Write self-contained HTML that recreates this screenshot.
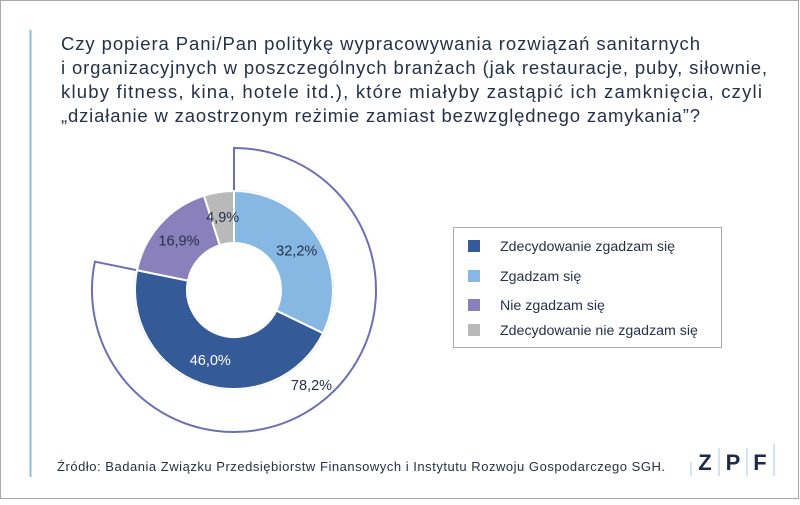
<!DOCTYPE html>
<html><head><meta charset="utf-8"><style>
body{margin:0;width:800px;height:500px;overflow:hidden;background:#fff;font-family:"Liberation Sans",sans-serif}
</style></head><body>
<svg width="800" height="500" xmlns="http://www.w3.org/2000/svg">
<rect x="0.5" y="0.5" width="798" height="498" fill="#fff" stroke="#a9a9a9"/>
<line x1="30.5" y1="30" x2="30.5" y2="477" stroke="#8fbce6" stroke-width="2"/>
<g font-size="18.5" fill="#25304a">
<text x="61" y="50" textLength="639" lengthAdjust="spacing">Czy popiera Pani/Pan politykę wypracowywania rozwiązań sanitarnych</text>
<text x="61" y="74" textLength="706" lengthAdjust="spacing">i organizacyjnych w poszczególnych branżach (jak restauracje, puby, siłownie,</text>
<text x="61" y="98" textLength="701" lengthAdjust="spacing">kluby fitness, kina, hotele itd.), które miałyby zastąpić ich zamknięcia, czyli</text>
<text x="61" y="122" textLength="639" lengthAdjust="spacing">„działanie w zaostrzonym reżimie zamiast bezwzględnego zamykania”?</text>
</g>
<g id="pie"></g>
<rect x="453.5" y="227.5" width="268" height="120" fill="none" stroke="#a9a9a9"/>
<g id="legend" font-size="14.2" fill="#25304a"></g>
<text x="57" y="471" font-size="13" fill="#25304a" textLength="608" lengthAdjust="spacing">Źródło: Badania Związku Przedsiębiorstw Finansowych i Instytutu Rozwoju Gospodarczego SGH.</text>
<g>
<line x1="691" y1="462" x2="691" y2="476" stroke="#a9c9ea"/>
<line x1="719" y1="448" x2="719" y2="476" stroke="#a9c9ea"/>
<line x1="747" y1="448" x2="747" y2="476" stroke="#a9c9ea"/>
<line x1="774" y1="444" x2="774" y2="476" stroke="#a9c9ea"/>
<text x="705" y="470" font-size="22" font-weight="bold" fill="#1f2a4a" text-anchor="middle">Z</text>
<text x="733" y="470" font-size="22" font-weight="bold" fill="#1f2a4a" text-anchor="middle">P</text>
<text x="760" y="470" font-size="22" font-weight="bold" fill="#1f2a4a" text-anchor="middle">F</text>
</g>
</svg>
<script>
const categories=["Zgadzam się","Zdecydowanie zgadzam się","Nie zgadzam się","Zdecydowanie nie zgadzam się"];
const values=[32.2,46.0,16.9,4.9];
const labels=["32,2%","46,0%","16,9%","4,9%"];
const colors=["#86b8e3","#345b97","#8a80bb","#b9b9b9"];
const labelColors=["#25304a","#ffffff","#25304a","#25304a"];
const legendNames=["Zdecydowanie zgadzam się","Zgadzam się","Nie zgadzam się","Zdecydowanie nie zgadzam się"];
const legendColors=["#345b97","#86b8e3","#8a80bb","#b9b9b9"];
const frameValue=78.2;
const frameLabel="78,2%";

const NS="http://www.w3.org/2000/svg";
const cx=234,cy=290,r0=47,r1=99,R=142;
function pt(p,r){const a=p/100*2*Math.PI;return [cx+r*Math.sin(a),cy-r*Math.cos(a)];}
function sector(p0,p1,ri,ro){
  const large=(p1-p0)>50?1:0;
  const a=pt(p0,ro),b=pt(p1,ro),c=pt(p1,ri),d=pt(p0,ri);
  return `M${a[0]},${a[1]} A${ro},${ro} 0 ${large} 1 ${b[0]},${b[1]} L${c[0]},${c[1]} A${ri},${ri} 0 ${large} 0 ${d[0]},${d[1]} Z`;
}
const g=document.getElementById('pie');
const frame=document.createElementNS(NS,'path');
frame.setAttribute('d',sector(0,frameValue,r1,R));
frame.setAttribute('fill','none');frame.setAttribute('stroke','#6b6fb5');frame.setAttribute('stroke-width','2');


g.appendChild(frame);
let acc=0;
values.forEach((v,i)=>{
  const p=document.createElementNS(NS,'path');
  p.setAttribute('d',sector(acc,acc+v,r0,r1));
  p.setAttribute('fill',colors[i]);p.setAttribute('stroke','#fff');p.setAttribute('stroke-width','2');
  
  
  g.appendChild(p);
  const m=pt(acc+v/2,(r0+r1)/2+1);
  const t=document.createElementNS(NS,'text');
  t.setAttribute('x',m[0]);t.setAttribute('y',m[1]+5);t.setAttribute('text-anchor','middle');
  t.setAttribute('font-size','14.5');t.setAttribute('fill',labelColors[i]);
  t.textContent=labels[i];
  
  
  g.appendChild(t);
  acc+=v;
});
const fm=pt(frameValue/2,(r1+R)/2+2);
const ft=document.createElementNS(NS,'text');
ft.setAttribute('x',fm[0]);ft.setAttribute('y',fm[1]+5);ft.setAttribute('text-anchor','middle');
ft.setAttribute('font-size','14.5');ft.setAttribute('fill','#25304a');ft.textContent=frameLabel;


g.appendChild(ft);
const lg=document.getElementById('legend');
const rowY=[246,276,305,330];
legendNames.forEach((n,i)=>{
  const s=document.createElementNS(NS,'rect');
  s.setAttribute('x',468);s.setAttribute('y',rowY[i]-6);s.setAttribute('width',12);s.setAttribute('height',12);
  s.setAttribute('fill',legendColors[i]);
  
  
  lg.appendChild(s);
  const t=document.createElementNS(NS,'text');
  t.setAttribute('x',500);t.setAttribute('y',rowY[i]+5);t.textContent=n;
  
  
  lg.appendChild(t);
});
</script>
</body></html>
